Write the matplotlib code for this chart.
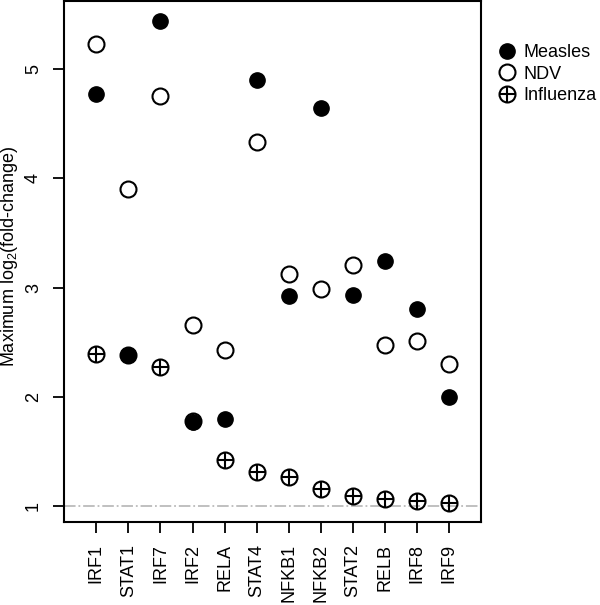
import numpy as np
import matplotlib.pyplot as plt
from matplotlib.lines import Line2D
from matplotlib.legend_handler import HandlerTuple

plt.rcParams["font.family"] = ["Liberation Sans", "DejaVu Sans"]
plt.rcParams["mathtext.fontset"] = "custom"
plt.rcParams["mathtext.rm"] = "Liberation Sans"
plt.rcParams["mathtext.default"] = "regular"

genes = ["IRF1", "STAT1", "IRF7", "IRF2", "RELA", "STAT4",
         "NFKB1", "NFKB2", "STAT2", "RELB", "IRF8", "IRF9"]
measles = [4.77, 2.38, 5.44, 1.77, 1.80, 4.90, 2.92, 4.64, 2.93, 3.24, 2.80, 2.00]
ndv = [5.23, 3.90, 4.75, 2.66, 2.43, 4.33, 3.12, 2.99, 3.21, 2.47, 2.51, 2.30]
influenza = [2.39, 2.38, 2.27, 1.78, 1.42, 1.31, 1.27, 1.16, 1.09, 1.07, 1.05, 1.03]

fig = plt.figure(figsize=(6, 6.05), dpi=100)
ax = fig.add_axes([0.107, 0.137, 0.695, 0.861])

x = np.arange(1, len(genes) + 1)
ms = 11.5

ax.axhline(1, color="#bbbbbb", linestyle="-.", linewidth=1.3, zorder=1)

# influenza: circle with a plus inside (R pch=10)
ax.plot(x, influenza, "o", ms=ms, mfc="none", mec="black", mew=1.5, zorder=2)
ax.plot(x, influenza, "+", ms=ms, mec="black", mew=1.5, zorder=2)
ax.plot(x, ndv, "o", ms=ms, mfc="none", mec="black", mew=1.5, zorder=3)
ax.plot(x, measles, "o", ms=ms - 0.5, mfc="black", mec="black", zorder=4)

ax.set_xlim(0, 13)
ax.set_ylim(0.854, 5.62)
ax.set_xticks(x)
ax.set_xticklabels(genes, rotation=90, fontsize=13)
ax.set_yticks([1, 2, 3, 4, 5])
ax.set_yticklabels(["1", "2", "3", "4", "5"], rotation=90, va="center", fontsize=13)
ax.tick_params(axis="both", length=8, width=1.3, pad=8)
for s in ax.spines.values():
    s.set_linewidth(1.5)

ax.set_ylabel("Maximum log$_2$(fold-change)", fontsize=13)
ax.yaxis.set_label_coords(-0.106, 0.51)

h_measles = Line2D([], [], ls="none", marker="o", ms=ms - 0.5, mfc="black", mec="black")
h_ndv = Line2D([], [], ls="none", marker="o", ms=ms, mfc="none", mec="black", mew=1.5)
h_inf = (Line2D([], [], ls="none", marker="o", ms=ms, mfc="none", mec="black", mew=1.5),
         Line2D([], [], ls="none", marker="+", ms=ms, mec="black", mew=1.5))
fig.legend([h_measles, h_ndv, h_inf], ["Measles", "NDV", "Influenza"],
           handler_map={tuple: HandlerTuple(ndivide=1, pad=0)},
           loc="upper left", bbox_to_anchor=(0.83, 0.927), frameon=False,
           fontsize=13, handlelength=1.0, handletextpad=0.4, labelspacing=0.25,
           borderpad=0, borderaxespad=0)

fig.savefig("out.png", dpi=100)
